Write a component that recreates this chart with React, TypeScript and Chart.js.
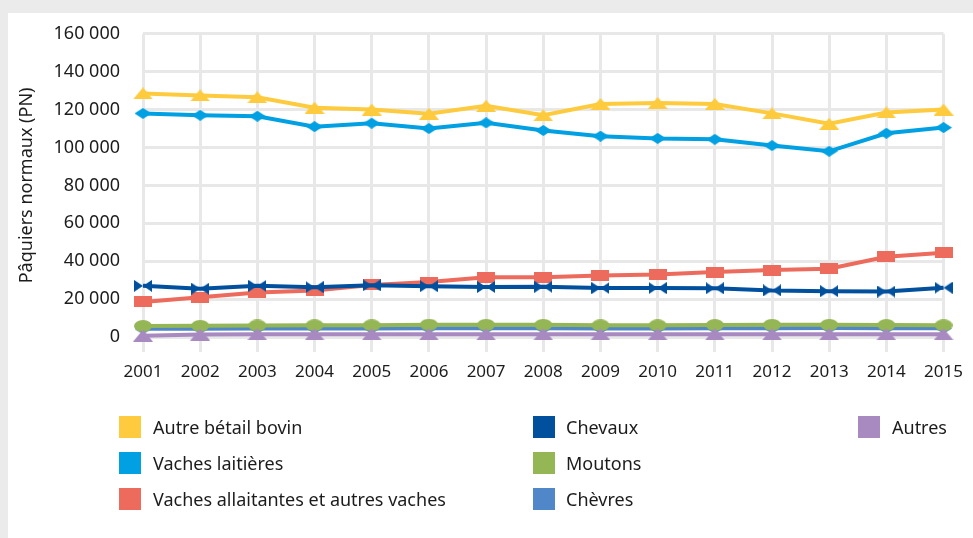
import React, { useEffect, useRef } from "react";
import { Chart, registerables } from "chart.js";

Chart.register(...registerables);

const years = ["2001", "2002", "2003", "2004", "2005", "2006", "2007", "2008", "2009", "2010", "2011", "2012", "2013", "2014", "2015"];

const autreBetailBovin = [128500, 127500, 126500, 121000, 120000, 117800, 122000, 117000, 123000, 123500, 123000, 118000, 112500, 118500, 120000];
const vachesLaitieres = [118000, 117000, 116500, 111000, 112800, 110000, 113000, 109000, 106000, 104800, 104300, 101000, 98000, 107500, 110500];
const vachesAllaitantes = [18500, 21000, 23500, 24500, 27500, 29000, 31500, 31500, 32500, 33000, 34300, 35300, 36000, 42300, 44500];
const chevaux = [27000, 25500, 27000, 26300, 27300, 26800, 26400, 26500, 25800, 25800, 25700, 24600, 24200, 24000, 26000];
const moutons = [5800, 5900, 6100, 6200, 6200, 6500, 6400, 6400, 6200, 6200, 6300, 6400, 6400, 6300, 6200];
const chevres = [4300, 4400, 4500, 4500, 4500, 4600, 4600, 4600, 4500, 4500, 4600, 4600, 4700, 4600, 4600];
const autres = [700, 1300, 1400, 1400, 1400, 1400, 1400, 1400, 1400, 1400, 1400, 1400, 1500, 1400, 1400];

const yTicks = [0, 20000, 40000, 60000, 80000, 100000, 120000, 140000, 160000];

const seriesNames = [
  "Autre bétail bovin",
  "Vaches laitières",
  "Vaches allaitantes et autres vaches",
  "Chevaux",
  "Moutons",
  "Chèvres",
  "Autres",
];
const seriesData = [autreBetailBovin, vachesLaitieres, vachesAllaitantes, chevaux, moutons, chevres, autres];
const seriesColors = ["#fecb3e", "#00a0e2", "#ed6b5c", "#00509e", "#95b654", "#5087c8", "#a88ac1"];
const seriesMarkers = ["triangle", "diamond", "rect", "bowtie", "ellipse", "diamond", "triangle"];
// drawing order: lower value drawn on top
const seriesOrder = [7, 6, 5, 4, 2, 3, 1];

const FONT = "'Noto Sans', sans-serif";
const TEXT = "#1c1c1c";

function makeMarker(shape: string, color: string): HTMLCanvasElement {
  const sizes: Record<string, [number, number]> = {
    triangle: [20, 12],
    diamond: [17, 11],
    rect: [18, 11],
    bowtie: [18, 12],
    ellipse: [18, 12],
  };
  const [w, h] = sizes[shape];
  const c = document.createElement("canvas");
  c.width = w;
  c.height = h;
  const ctx = c.getContext("2d")!;
  ctx.fillStyle = color;
  ctx.beginPath();
  if (shape === "triangle") {
    ctx.moveTo(w / 2, 0);
    ctx.lineTo(w, h);
    ctx.lineTo(0, h);
    ctx.closePath();
  } else if (shape === "diamond") {
    ctx.moveTo(w / 2, 0);
    ctx.lineTo(w, h / 2);
    ctx.lineTo(w / 2, h);
    ctx.lineTo(0, h / 2);
    ctx.closePath();
  } else if (shape === "rect") {
    ctx.rect(0, 0, w, h);
  } else if (shape === "bowtie") {
    ctx.moveTo(0, 0);
    ctx.lineTo(w / 2, h / 2);
    ctx.lineTo(0, h);
    ctx.closePath();
    ctx.moveTo(w, 0);
    ctx.lineTo(w / 2, h / 2);
    ctx.lineTo(w, h);
    ctx.closePath();
  } else {
    ctx.ellipse(w / 2, h / 2, w / 2, h / 2, 0, 0, Math.PI * 2);
  }
  ctx.fill();
  return c;
}

const fmt = (v: number) => String(v).replace(/\B(?=(\d{3})+(?!\d))/g, " ");

const legendCols = [
  { box: 119, text: 153, items: [0, 1, 2] },
  { box: 533, text: 566, items: [3, 4, 5] },
  { box: 858, text: 892, items: [6] },
];
const legendRows = [427, 463, 499];

export default function App() {
  const ref = useRef<HTMLCanvasElement | null>(null);

  useEffect(() => {
    if (!ref.current) return;
    const datasets = seriesNames.map((name, i) => ({
      label: name,
      data: seriesData[i],
      borderColor: seriesColors[i],
      backgroundColor: seriesColors[i],
      borderWidth: 4,
      pointStyle: makeMarker(seriesMarkers[i], seriesColors[i]) as any,
      pointRadius: 8,
      tension: 0,
      clip: false as any,
      order: seriesOrder[i],
    }));
    const chart = new Chart(ref.current, {
      type: "line",
      data: { labels: years, datasets },
      options: {
        animation: false,
        responsive: false,
        maintainAspectRatio: false,
        layout: { padding: { left: 0, right: 27, top: 32, bottom: 156 } },
        plugins: { legend: { display: false }, tooltip: { enabled: false } },
        scales: {
          x: {
            offset: false,
            grid: { color: "#e8e8e8", lineWidth: 3, tickLength: 15, drawTicks: true },
            border: { display: false },
            ticks: { font: { family: FONT, size: 17 }, color: TEXT, padding: 10, maxRotation: 0, autoSkip: false },
            afterFit: (s: any) => {
              s.height = 45;
            },
          },
          y: {
            min: 0,
            max: 160000,
            afterBuildTicks: (s: any) => {
              s.ticks = yTicks.map((v) => ({ value: v }));
            },
            grid: { color: "#e8e8e8", lineWidth: 3, drawTicks: false },
            border: { display: false },
            ticks: {
              font: { family: FONT, size: 18 },
              color: TEXT,
              padding: 23,
              callback: (v: any) => fmt(Number(v)),
            },
            title: {
              display: true,
              text: "Pâquiers normaux (PN)",
              font: { family: FONT, size: 18 },
              color: TEXT,
              padding: { top: 16, bottom: 0 },
            },
            afterFit: (s: any) => {
              s.width = 143;
            },
          },
        },
      },
    });
    return () => chart.destroy();
  }, []);

  return (
    <div
      style={{
        position: "fixed",
        left: 0,
        top: 0,
        width: 973,
        height: 538,
        background: "#ebebeb",
        overflow: "hidden",
        fontFamily: FONT,
      }}
    >
      <div style={{ position: "absolute", left: 8, top: 13, right: 0, bottom: 0, background: "#ffffff" }} />
      <canvas
        ref={ref}
        width={973}
        height={538}
        style={{ position: "absolute", left: 0, top: 0, width: 973, height: 538 }}
      />
      {legendCols.map((col, ci) =>
        col.items.map((si, ri) => (
          <React.Fragment key={`${ci}-${ri}`}>
            <div
              style={{
                position: "absolute",
                left: col.box,
                top: legendRows[ri] - 11,
                width: 22,
                height: 22,
                background: seriesColors[si],
              }}
            />
            <div
              style={{
                position: "absolute",
                left: col.text,
                top: legendRows[ri],
                transform: "translateY(-50%)",
                fontSize: 18,
                lineHeight: 1,
                color: TEXT,
                whiteSpace: "nowrap",
              }}
            >
              {seriesNames[si]}
            </div>
          </React.Fragment>
        ))
      )}
    </div>
  );
}
